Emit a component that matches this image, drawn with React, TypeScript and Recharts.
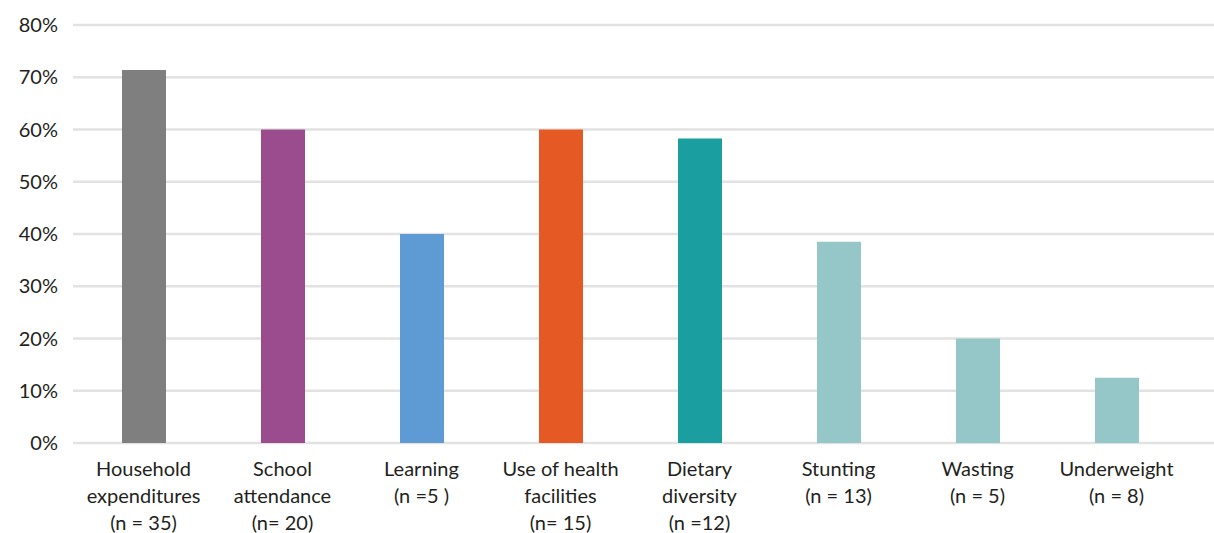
import React from 'react';
import { BarChart, Bar, XAxis, YAxis, CartesianGrid, Cell } from 'recharts';

const labelLine1 = ['Household', 'School', 'Learning', 'Use of health', 'Dietary', 'Stunting', 'Wasting', 'Underweight'];
const labelLine2 = ['expenditures', 'attendance', '(n =5 )', 'facilities', 'diversity', '(n = 13)', '(n = 5)', '(n = 8)'];
const labelLine3 = ['(n = 35)', '(n= 20)', '', '(n= 15)', '(n =12)', '', '', ''];
const shares = [71.4, 60, 40, 60, 58.3, 38.5, 20, 12.5];
const barColors = ['#7f7f7f', '#9a4c8e', '#5e9bd4', '#e55a24', '#1b9e9f', '#96c7c8', '#96c7c8', '#96c7c8'];
const yTicks = [0, 10, 20, 30, 40, 50, 60, 70, 80];

const data = labelLine1.map((c, i) => ({ category: c, share: shares[i] }));

const FONT = 'Lato, "Open Sans", sans-serif';
const TEXT = '#231f20';

const CategoryTick = (props: any) => {
  const { x, y, payload } = props;
  const i = payload.index;
  const lines = [labelLine1[i], labelLine2[i], labelLine3[i]].filter((l) => l);
  return (
    <text x={x} y={y} textAnchor="middle" fill={TEXT} fontSize={20} fontFamily={FONT}>
      {lines.map((l, k) => (
        <tspan key={k} x={x} y={y + 33 + k * 27}>
          {l}
        </tspan>
      ))}
    </text>
  );
};

export default function App() {
  return (
    <div style={{ position: 'absolute', left: 0, top: 0, background: '#fff' }}>
      <BarChart width={1214} height={533} data={data} margin={{ top: 25, right: 0, bottom: 0, left: 0 }}>
        <CartesianGrid vertical={false} stroke="#e2e2e2" strokeWidth={2.5} />
        <XAxis
          dataKey="category"
          axisLine={false}
          tickLine={false}
          tickSize={0}
          tickMargin={0}
          height={90}
          interval={0}
          padding={{ left: 1, right: 28 }}
          tick={<CategoryTick />}
        />
        <YAxis
          domain={[0, 80]}
          ticks={yTicks}
          tickFormatter={(v) => `${v}%`}
          axisLine={false}
          tickLine={false}
          tickSize={0}
          tickMargin={15}
          width={73}
          tick={{ fill: TEXT, fontSize: 20, fontFamily: FONT }}
        />
        <Bar dataKey="share" barSize={44} isAnimationActive={false}>
          {data.map((d, i) => (
            <Cell key={d.category} fill={barColors[i]} />
          ))}
        </Bar>
      </BarChart>
    </div>
  );
}
